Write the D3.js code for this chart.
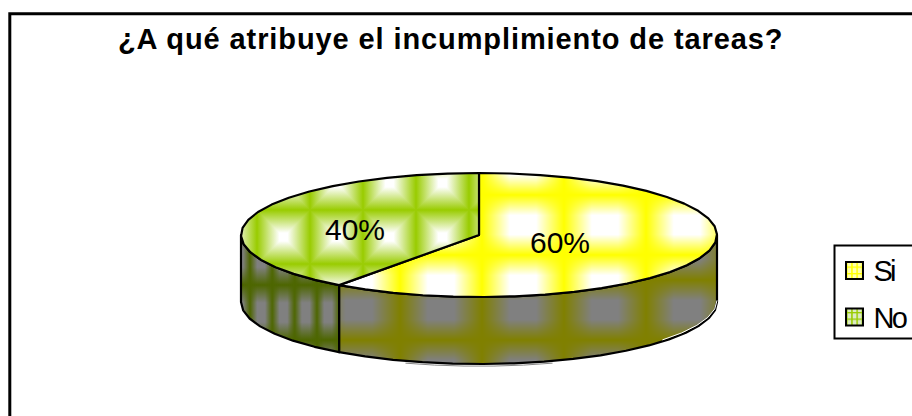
<!DOCTYPE html>
<html><head><meta charset="utf-8">
<script src="https://cdn.jsdelivr.net/npm/d3@7"></script>
<style>html,body{margin:0;background:#fff}svg{display:block}text{font-family:"Liberation Sans",Arial,sans-serif;fill:#000}</style>
</head><body><svg id="c" width="912" height="416"></svg>
<script>
const titleText = "¿A qué atribuye el incumplimiento de tareas?";
const categories = ["Si", "No"];
const values = [60, 40];
const labels = ["60%", "40%"];
const topEdge = ["#ffff00", "#99cc00"];
const topCentre = ["#ffffff", "#ffffff"];
const sideEdge = ["#808000", "#4d6600"];
const sideCentre = ["#808080", "#808080"];

const svg = d3.select("#c");
const defs = svg.append("defs");

function newPattern(id, x0, y0, w, h) {
  return defs.append("pattern").attr("id", id).attr("patternUnits", "userSpaceOnUse")
    .attr("x", x0).attr("y", y0).attr("width", w).attr("height", h);
}
// Tile built from two crossing bands that fade out towards the middle of the tile
function crossTile(id, x0, y0, w, h, edge, centre, stop) {
  const p = newPattern(id, x0, y0, w, h);
  p.append("rect").attr("width", w).attr("height", h).attr("fill", centre);
  [["H", 0, 0, 0, 1], ["V", 0, 0, 1, 0]].forEach(([k, a, b, c, d]) => {
    const g = defs.append("linearGradient").attr("id", id + k)
      .attr("x1", a).attr("y1", b).attr("x2", c).attr("y2", d);
    [[0, 1], [stop / 2, 0], [1 - stop / 2, 0], [1, 1]].forEach(([o, al]) =>
      g.append("stop").attr("offset", o).attr("stop-color", edge).attr("stop-opacity", al));
    p.append("rect").attr("width", w).attr("height", h).attr("fill", `url(#${id}${k})`);
  });
}
// Tile built from four triangles meeting in the middle, giving a pillow look
function pillowTile(id, x0, y0, w, h, edge, centre, stop) {
  const cx = w / 2, cy = h / 2;
  const p = newPattern(id, x0, y0, w, h);
  [
    {pts:[[0,0],[w,0],[cx,cy]], g:[0,0,0,cy]},
    {pts:[[0,h],[w,h],[cx,cy]], g:[0,h,0,cy]},
    {pts:[[0,0],[0,h],[cx,cy]], g:[0,0,cx,0]},
    {pts:[[w,0],[w,h],[cx,cy]], g:[w,0,cx,0]}
  ].forEach((s, i) => {
    const gid = id + "g" + i;
    const g = defs.append("linearGradient").attr("id", gid).attr("gradientUnits", "userSpaceOnUse")
      .attr("x1", s.g[0]).attr("y1", s.g[1]).attr("x2", s.g[2]).attr("y2", s.g[3]);
    g.append("stop").attr("offset", 0).attr("stop-color", edge);
    g.append("stop").attr("offset", stop).attr("stop-color", centre);
    g.append("stop").attr("offset", 1).attr("stop-color", centre);
    p.append("polygon").attr("points", s.pts.join(" ")).attr("fill", `url(#${gid})`)
      .attr("shape-rendering", "crispEdges");
  });
}
crossTile("topSi", 400, 195, 82, 60, topEdge[0], topCentre[0], 0.68);
pillowTile("topNo", 310, 210, 53, 54, topEdge[1], topCentre[1], 0.85);
crossTile("sideSi", 400, 280, 82, 60, sideEdge[0], sideCentre[0], 0.68);
crossTile("sideNo", 250, 285, 22.3, 55, sideEdge[1], sideCentre[1], 0.65);

function swatchPattern(id, edge, cell) {
  const p = newPattern(id, 846, 0, 5.2, 6.5);
  p.append("rect").attr("width", 5.2).attr("height", 6.5).attr("fill", cell);
  p.append("rect").attr("width", 1.5).attr("height", 6.5).attr("fill", edge);
  p.append("rect").attr("width", 5.2).attr("height", 1.3).attr("fill", edge);
}
swatchPattern("swSi", "#ffff00", "#ffffb0");
swatchPattern("swNo", "#99cc00", "#dcebc4");

// frame, open on the right and the bottom as in the reference
svg.append("path").attr("d", d3.line()([[9.8, 416], [9.8, 13.8], [912, 13.8]]))
  .attr("fill", "none").attr("stroke", "#000").attr("stroke-width", 3);

svg.append("text").attr("x", 118).attr("y", 49)
  .attr("font-size", 29).attr("font-weight", "bold").attr("letter-spacing", 0.9).text(titleText);

// projected pie
const x = d3.scaleLinear().domain([-1, 1]).range([241, 717]);
const y = d3.scaleLinear().domain([-1, 1]).range([173, 297]);
const depth = 67;
const slices = d3.pie().sort(null)(values);
const step = Math.PI / 24;
function rim(a0, a1, dy) {
  const n = Math.max(1, Math.round((a1 - a0) / step));
  return d3.range(n + 1).map(i => {
    const a = a0 + (a1 - a0) * i / n;
    return [x(Math.sin(a)), y(-Math.cos(a)) + dy];
  });
}
const line = d3.line();
const C = [x(0), y(0)];

const sides = svg.append("g");
// thin gray and white rims along the lower edge
sides.append("path").attr("d", line(rim(Math.PI * 0.9, Math.PI * 1.1, depth + 2.2)))
  .attr("fill", "none").attr("stroke", "#888").attr("stroke-width", 1);
slices.forEach((s, i) => {
  const a0 = Math.max(s.startAngle, Math.PI / 2), a1 = Math.min(s.endAngle, 3 * Math.PI / 2);
  if (a1 <= a0) return;
  const pts = rim(a0, a1, 0).concat(rim(a0, a1, depth).reverse());
  sides.append("path").attr("d", line(pts) + "Z").attr("fill", `url(#side${categories[i]})`)
    .attr("stroke", "#000").attr("stroke-width", 2.2).attr("stroke-linejoin", "round");
});
sides.append("path").attr("d", line(rim(Math.PI * 0.5, Math.PI * 0.72, depth - 1.6)))
  .attr("fill", "none").attr("stroke", "#fff").attr("stroke-width", 1);
slices.forEach((s, i) => {
  const pts = [C].concat(rim(s.startAngle, s.endAngle, 0));
  svg.append("path").attr("d", line(pts) + "Z").attr("fill", `url(#top${categories[i]})`)
    .attr("stroke", "#000").attr("stroke-width", 2.2).attr("stroke-linejoin", "round");
});

const labelPos = [[560, 253], [355, 239.5]];
labels.forEach((t, i) => {
  svg.append("text").attr("x", labelPos[i][0]).attr("y", labelPos[i][1]).attr("text-anchor", "middle")
    .attr("font-size", 30).text(t);
});

// legend
svg.append("rect").attr("x", 834.5).attr("y", 245.5).attr("width", 100).attr("height", 93)
  .attr("fill", "#fff").attr("stroke", "#000").attr("stroke-width", 2);
const rowY = [270.5, 317];
const legendBase = [281, 328];
categories.forEach((c, i) => {
  svg.append("rect").attr("x", 846).attr("y", rowY[i] - 8.5).attr("width", 17).attr("height", 17)
    .attr("fill", `url(#sw${c})`).attr("stroke", "#000").attr("stroke-width", 2);
  svg.append("text").attr("x", 873.5).attr("y", legendBase[i])
    .attr("font-size", 29).attr("letter-spacing", -2.8).text(c);
});
</script></body></html>
